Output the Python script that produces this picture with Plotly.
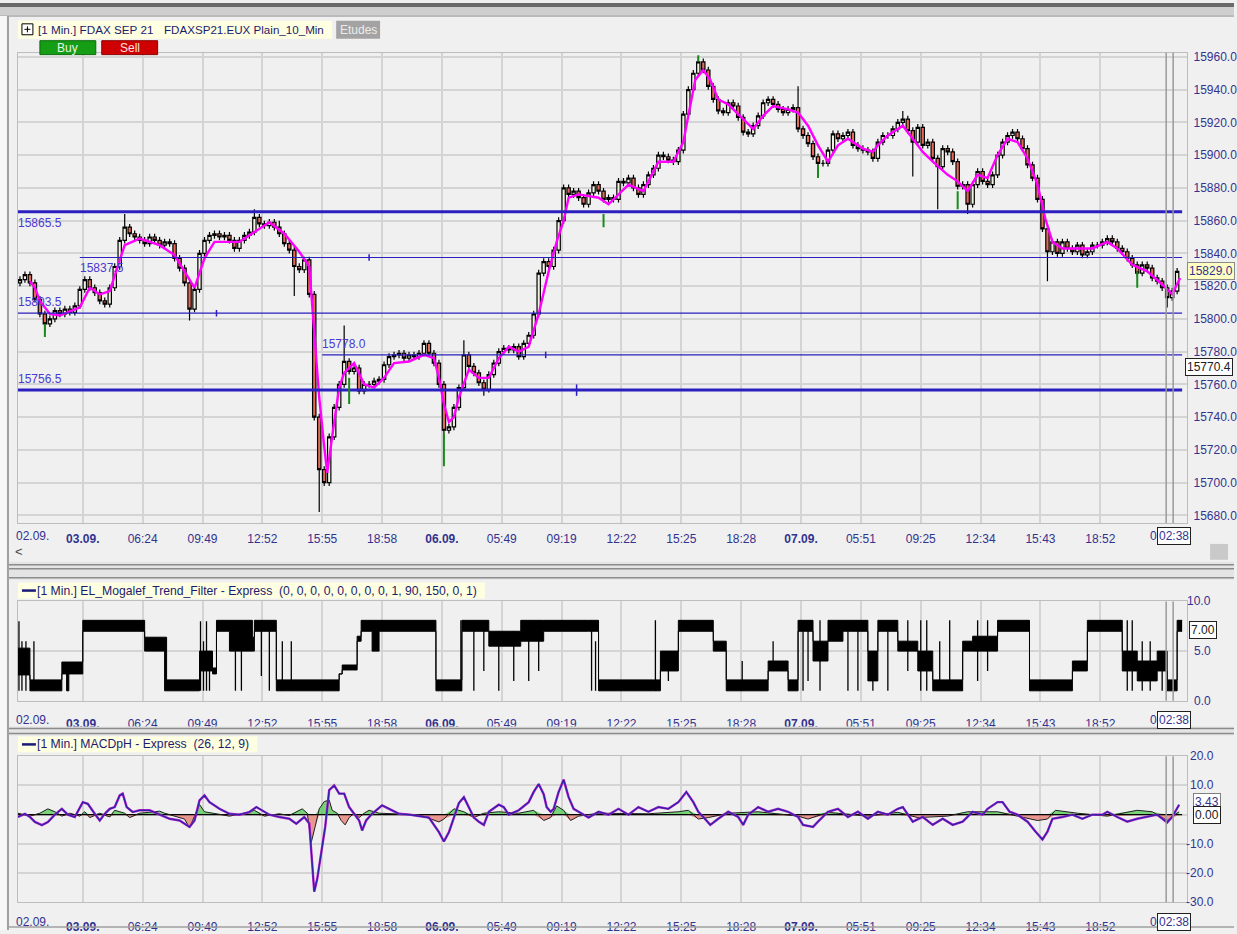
import plotly.graph_objects as go

W, H = 1237, 934
def px(x): return x / W
def py(y): return 1 - y / H

FONT = "Liberation Sans, Arial, sans-serif"
NAVY = "#33338f"

# ---------------- data ----------------
close = [
    15824, 15827, 15822, 15812, 15803, 15797, 15800, 15805, 15803, 15806,
    15804, 15808, 15818, 15824, 15819, 15816, 15811, 15809, 15819, 15832,
    15848, 15856, 15852, 15850, 15848, 15846, 15850, 15848, 15845, 15847,
    15846, 15837, 15831, 15822, 15806, 15818, 15840, 15848, 15851, 15852,
    15850, 15851, 15848, 15843, 15848, 15851, 15853, 15862, 15858, 15857,
    15859, 15856, 15852, 15846, 15842, 15832, 15830, 15836, 15815, 15740,
    15708, 15700, 15728, 15746, 15760, 15774, 15768, 15770, 15756, 15760,
    15760, 15762, 15763, 15772, 15777, 15778, 15779, 15776, 15778, 15777,
    15779, 15785, 15779, 15773, 15760, 15732, 15734, 15746, 15758, 15778,
    15771, 15767, 15761, 15757, 15766, 15773, 15780, 15782, 15781, 15783,
    15777, 15785, 15790, 15803, 15828, 15835, 15832, 15842, 15860, 15880,
    15876, 15878, 15874, 15870, 15877, 15882, 15878, 15873, 15874, 15873,
    15884, 15883, 15886, 15880, 15876, 15882, 15888, 15892, 15900, 15899,
    15897, 15896, 15903, 15925, 15940, 15950, 15957, 15952, 15942, 15934,
    15927, 15926, 15932, 15930, 15923, 15914, 15913, 15918, 15924, 15932,
    15934, 15931, 15928, 15926, 15928, 15929, 15916, 15912, 15907, 15899,
    15895, 15895, 15903, 15913, 15910, 15912, 15914, 15906, 15904, 15903,
    15902, 15898, 15908, 15912, 15912, 15916, 15920, 15922, 15915, 15908,
    15917, 15906, 15908, 15898, 15893, 15904, 15902, 15896, 15881, 15882,
    15870, 15882, 15890, 15884, 15882, 15888, 15900, 15908, 15912, 15914,
    15910, 15904, 15894, 15886, 15873, 15855, 15841, 15847, 15840, 15847,
    15843, 15841, 15845, 15839, 15841, 15845, 15845, 15847, 15849, 15847,
    15843, 15841, 15837, 15833, 15828, 15833, 15831, 15825, 15823, 15819,
    15813, 15817, 15829,
]
first_open = 15822
wick = 2
high_override = {21: 15864, 47: 15867, 52: 15860, 58: 15838, 65: 15796, 81: 15787,
                 89: 15787, 136: 15960, 156: 15942, 177: 15927}
low_override = {5: 15792, 34: 15799, 55: 15814, 60: 15682, 85: 15726, 93: 15753,
                179: 15887, 184: 15867, 190: 15864, 206: 15823, 230: 15807}
green_wick_bar = [5, 66, 85, 117, 160, 188, 224, 136]
green_wick_top = [15797, 15764, 15730, 15864, 15894, 15878, 15829, 15961]
green_wick_bot = [15789, 15748, 15710, 15856, 15886, 15867, 15819, 15957]

ma_bar = [2, 3, 4, 6, 8, 12, 14, 16, 18, 20, 21, 24, 28, 31, 33, 35, 37, 39, 44, 47,
          50, 53, 56, 58, 59, 60, 61, 61.6, 63, 64, 65, 67, 69, 71, 73, 75, 78, 81, 83, 84,
          85, 86, 87, 88, 90, 92, 94, 96, 98, 100, 102, 104, 106, 107.6, 109, 110, 112, 116, 118, 120,
          122, 125, 128, 131, 133, 134, 135.4, 137, 138.4, 140, 142, 145, 147, 149, 151, 154, 156, 158, 160, 162,
          164, 166, 169, 171, 172, 174, 177, 179, 181, 183, 186, 188, 190, 192, 194, 196, 198, 200, 202, 204,
          205.6, 207, 209, 212, 215, 218, 220, 223, 226, 229, 231, 232.6]
ma_val = [15823, 15819, 15811, 15803, 15802, 15807, 15819, 15815, 15817, 15835, 15845, 15849, 15845, 15839, 15829, 15819, 15837, 15847, 15847, 15853,
          15859, 15852, 15841, 15832, 15793, 15752, 15722, 15706, 15737, 15758, 15767, 15773, 15760, 15758, 15764, 15773, 15774, 15778, 15776, 15764,
          15748, 15737, 15740, 15752, 15769, 15764, 15764, 15776, 15783, 15780, 15783, 15803, 15829, 15847, 15860, 15874, 15876, 15874, 15870, 15876,
          15882, 15878, 15896, 15896, 15908, 15924, 15946, 15952, 15946, 15934, 15931, 15922, 15916, 15924, 15930, 15928, 15926, 15918, 15906, 15896,
          15906, 15910, 15904, 15902, 15906, 15912, 15918, 15910, 15902, 15896, 15888, 15884, 15878, 15888, 15886, 15900, 15910, 15908, 15898, 15882,
          15861, 15847, 15843, 15843, 15843, 15847, 15843, 15833, 15829, 15821, 15815, 15825]

level_value = [15865.5, 15837.5, 15803.5, 15778.0, 15756.5]
level_start = [-0.4, 12, -0.4, 60.6, -0.4]
level_thick = [True, False, False, False, True]
level_label_below = [True, True, False, False, False]
level_mark = [None, 70, 39.4, 105.4, 111.6]

tf_bar = [-0.6, 2.0, 8.4, 9.4, 9.8, 12.6, 25, 29, 29.4, 36, 38.6, 39.4, 42, 46.6, 47, 51.4,
          64, 64.6, 67.6, 68.4, 70.6, 72, 83.4, 88.6, 94, 100.4, 105, 114, 116, 127, 128.4, 132,
          139, 141.6, 150, 154, 156, 159, 162, 165, 170, 172, 176, 180, 183, 189, 191, 196,
          202.4, 211, 214, 221, 224, 228, 230, 232, 233]
tf_lo = [2.6, 1, 2.7, 1, 2.7, 7, 5, 1, 1, 3, 2.7, 7, 5, 5, 7, 1,
         2.7, 3.1, 6.0, 7, 5, 7, 1, 7, 5.5, 6, 7, 7, 1, 1, 3, 7,
         5, 1, 3, 1, 7, 4, 6, 7, 2, 7, 5, 3, 1, 5, 5, 7,
         1, 3, 7, 3, 2, 3, 1, 7, 7]
tf_hi = [5.3, 2.1, 3.9, 3.9, 3.9, 8.1, 6.4, 6.4, 2.1, 5, 3.3, 8.1, 8.1, 6.4, 8.1, 2.1,
         2.7, 3.6, 6.5, 8.1, 8.1, 8.1, 2.1, 8.1, 7, 8.1, 8.1, 8.1, 2.1, 2.1, 5, 8.1,
         6, 2.1, 4, 2.1, 8.1, 6, 8.1, 8.1, 5, 8.1, 6, 5, 2.1, 6, 6.5, 8.1,
         2.1, 4, 8.1, 5, 4, 5, 2.1, 8.1, 8.1]
tf_spike_bar = [-0.2, 0.4, 1.2, 2.8, 9.4, 36.2, 36.8, 37.4, 38.0, 43.2, 44.4, 48.4, 50.0, 52.6, 54.4,
                88.4, 91, 93, 96, 99, 102, 104, 114.6, 115.4, 127.4, 130, 144.8, 151, 157, 158, 160.4, 166, 168,
                171, 174, 178, 180.6, 181.8, 184.4, 186.4, 192, 194, 222, 223, 225, 226.6, 229]
tf_spike_lo = [1, 1, 1, 1, 1, 1, 1, 1, 1, 1, 1, 2.5, 1, 1, 1,
               1, 1, 3, 1, 2, 2, 3, 1, 1, 1, 2, 1, 3, 1, 2, 1, 1, 1,
               1, 1, 3, 1, 1, 2, 2, 2, 3, 1, 1, 1, 1, 1]
tf_spike_hi = [8, 6, 6, 6, 3.9, 8, 6, 8, 5, 6.4, 6.4, 8.1, 8.1, 6, 6,
               8.1, 8.1, 8.1, 7, 7, 8.1, 8.1, 8.1, 6, 8.1, 5, 4, 6, 8.1, 8.1, 8.1, 8.1, 8.1,
               5, 8.1, 8.1, 8.1, 8.1, 6, 8.1, 8.1, 8.1, 8.1, 8.1, 6, 6, 5]

macd_bar = [-0.4, 1, 2, 3, 4.4, 5.6, 7, 8.4, 9.6, 11, 12.6, 13.6, 15, 16, 17, 18, 19, 20, 20.6, 21.4,
            22.6, 24, 26, 28, 30, 32, 34, 35, 36, 37, 38, 40, 42, 44, 46, 47.4, 48.6, 50, 52, 54,
            55.4, 57, 58, 58.6, 59, 59.6, 60.4, 61.2, 62, 63, 64, 65, 66, 67, 68, 68.6, 69.4, 70.6, 72.6, 74,
            76, 78, 80, 82, 84, 85, 86, 87, 88, 89, 90, 91, 92, 93, 94, 96, 97, 98, 100, 102,
            103, 104, 105, 105.6, 106.4, 107, 108, 109, 110, 111, 112, 114, 116, 118, 120, 122, 124, 126, 128, 130,
            132, 133.6, 135, 136, 137, 138.4, 140, 142, 144, 145, 146, 148, 150, 152, 154, 156, 157, 159, 160, 162,
            164, 166, 168, 170, 172, 174, 176, 177, 179, 181, 183, 185, 187, 189, 191, 193, 194, 196, 197, 198.4,
            200, 202, 203.6, 205, 206, 207, 209, 211, 213, 215, 217, 218, 220, 222, 224, 226, 228, 230, 231, 232.4]
macd_val = [-0.8, 0.3, -0.8, -2.5, -3.6, -2.5, 0, 2.0, 0, -0.8, 4.3, 3.7, 0.3, -2.0, 0.3, 2.0, 2.6, 6.6, 7.2, 2.6,
            0.9, 1.5, 1.5, 0, -1.4, -2.0, -4.2, -2.0, 4.9, 6.6, 4.3, 2.0, 0.3, 0, 0.9, 2.6, 1.5, 0, -0.8, -1.4,
            -3.1, -0.8, -3.0, -17.9, -26.4, -22.0, -13.3, -4.2, 8.4, 10.0, 7.2, 7.2, 2.6, 0.3, -2.0, -5.4, -2.0, 0.3, 3.2, 2.0,
            0.3, 0, -0.5, -1.0, -6.0, -9.2, -6.0, -1.0, 4.0, 6.0, 2.6, -1.0, -2.4, -3.5, 1.0, 3.4, 2.6, 0, 1.5, 4.3,
            7.8, 10.5, 7.0, 2.6, 1.0, 2.0, 7.8, 12.0, 6.0, 2.0, 1.0, -1.0, 1.0, 0, 2.0, 0, 2.6, 1.0, 2.6, 2.0,
            4.3, 7.8, 4.3, 1.0, -0.8, -3.5, -1.4, 1.0, -0.8, -3.5, 0, 2.6, 1.0, 2.0, 1.0, -0.8, -3.5, -4.2, -2.4, 1.0,
            2.0, -0.8, 1.0, -1.4, 1.0, 0, 2.0, 2.6, -2.4, -0.8, -3.5, -1.4, -3.5, -2.4, 1.0, 0, 2.0, 4.3, 4.3, 1.0,
            0, -2.4, -5.8, -8.5, -5.8, -1.4, -0.8, 0, -1.4, 0, 0, 1.0, -0.8, -2.4, -1.4, -0.8, 0, -2.7, -0.8, 3.4]
hist_bar = [-0.4, 2, 4, 5.6, 7, 8.4, 10, 12, 13, 14, 16, 18, 19, 21, 22, 24, 26, 28, 29, 31,
            33, 34, 35, 36, 37, 39, 42, 45, 47, 49, 52, 54, 55.4, 56.6, 57.6, 58.4, 59.2, 60, 61, 62,
            62.6, 63.6, 64.4, 65.2, 66, 67, 68, 69, 70, 72, 75, 80, 84, 85, 87, 89, 91, 93, 96, 100,
            103, 105, 106.4, 107.6, 109, 110.4, 112, 116, 126, 132, 134, 136, 138, 142, 148, 156, 158, 162, 170, 176,
            180, 186, 190, 196, 200, 204, 206, 207.6, 212, 218, 224, 227, 230, 232.4]
hist_val = [0.5, -0.5, 0.5, 2.0, 1.0, -0.5, 0.5, -0.5, 1.0, -1.0, 0.5, -0.8, 1.5, 0.5, -1.0, 0.5, 0.8, 1.2, 0.5, -0.5,
            -1.5, -4.5, -0.5, 3.5, 1.0, 0.5, -0.5, 0.5, 1.5, -0.5, 0.3, -0.3, 1.0, 2.0, 0.5, -9.5, -4.0, 2.0, 4.5, 5.0,
            1.5, 0.5, -2.0, -3.5, -1.0, 0.5, -1.0, 0.5, 1.5, 0.5, 0.3, 0, -2.5, -1.5, 2.0, 1.0, -1.0, 0.5, 1.0, 0.5,
            1.5, -2.0, -1.0, 3.0, 1.5, -2.0, -0.5, 0.5, 0.3, 1.0, 1.5, -1.5, -1.0, 0.5, 1.0, -0.5, -1.5, 0.8, -0.5, 0.8,
            -1.0, -0.5, 1.0, 1.0, -0.5, -2.0, -1.5, 1.5, 0.5, -0.5, 1.5, 1.0, -2.0, 1.0]

time_tick_bar = [12.6, 24.6, 36.6, 48.6, 60.6, 72.6, 84.6, 96.6, 108.6, 120.6, 132.6, 144.6, 156.6, 168.6, 180.6, 192.6, 204.6, 216.6]
time_tick_text = ["<b>03.09.</b>", "06:24", "09:49", "12:52", "15:55", "18:58", "<b>06.09.</b>", "05:49", "09:19",
                  "12:22", "15:25", "18:28", "<b>07.09.</b>", "05:51", "09:25", "12:34", "15:43", "18:52"]
price_ticks = [15680, 15700, 15720, 15740, 15760, 15780, 15800, 15820, 15840, 15860, 15880, 15900, 15920, 15940, 15960]
tf_ticks = [0, 5, 10]
macd_ticks = [-30, -20, -10, 0, 10, 20]
session_bars = [229.8, 231.2]
last_price = 15829.0
marker_price = 15770.4

# ---------------- figure ----------------
fig = go.Figure()

opens = [first_open] + close[:-1]
highs, lows = [], []
for i, (o, c) in enumerate(zip(opens, close)):
    highs.append(high_override.get(i, max(o, c) + wick))
    lows.append(low_override.get(i, min(o, c) - wick))
bars = list(range(len(close)))

fig.add_trace(go.Scatter(x=ma_bar, y=ma_val, mode="lines", line=dict(color="#ff00ff", width=2.4),
                         xaxis="x", yaxis="y", hoverinfo="skip", showlegend=False))

for v, s, thick, below, mark in zip(level_value, level_start, level_thick, level_label_below, level_mark):
    fig.add_trace(go.Scatter(x=[s, 233], y=[v, v], mode="lines",
                             line=dict(color="#2b1fc0", width=3 if thick else 1.2),
                             xaxis="x", yaxis="y", hoverinfo="skip", showlegend=False))
    if mark is not None:
        fig.add_trace(go.Scatter(x=[mark, mark], y=[v - (3.5 if thick else 2), v + (3.5 if thick else 2)],
                                 mode="lines", line=dict(color="#2b1fc0", width=1.5),
                                 xaxis="x", yaxis="y", hoverinfo="skip", showlegend=False))
    fig.add_annotation(x=s, y=v, xref="x", yref="y", text=f"{v:.1f}", showarrow=False,
                       xanchor="left", yanchor="top" if below else "bottom", yshift=-2 if below else 2,
                       xshift=-2, font=dict(family=FONT, size=12, color="#4a3ad0"))

fig.add_trace(go.Candlestick(
    x=bars, open=opens, high=highs, low=lows, close=close, xaxis="x", yaxis="y",
    increasing=dict(fillcolor="#f3f1e2", line=dict(color="#000000", width=1.2)),
    decreasing=dict(fillcolor="#e36b58", line=dict(color="#000000", width=1.2)),
    whiskerwidth=0, showlegend=False, hoverinfo="skip"))

gx, gy = [], []
for b, t, lo in zip(green_wick_bar, green_wick_top, green_wick_bot):
    gx += [b, b, None]
    gy += [t, lo, None]
fig.add_trace(go.Scatter(x=gx, y=gy, mode="lines", line=dict(color="#1a8a1a", width=2),
                         xaxis="x", yaxis="y", hoverinfo="skip", showlegend=False))

fig.add_trace(go.Scatter(x=tf_bar, y=tf_lo, mode="lines", line=dict(color="#000000", width=1, shape="hv"),
                         xaxis="x2", yaxis="y2", hoverinfo="skip", showlegend=False))
fig.add_trace(go.Scatter(x=tf_bar, y=tf_hi, mode="lines", line=dict(color="#000000", width=1, shape="hv"),
                         fill="tonexty", fillcolor="#000000",
                         xaxis="x2", yaxis="y2", hoverinfo="skip", showlegend=False))
sx, sy = [], []
for b, lo, hi in zip(tf_spike_bar, tf_spike_lo, tf_spike_hi):
    sx += [b, b, None]
    sy += [lo, hi, None]
fig.add_trace(go.Scatter(x=sx, y=sy, mode="lines", line=dict(color="#000000", width=1.3),
                         xaxis="x2", yaxis="y2", hoverinfo="skip", showlegend=False))

hist_pos = [max(v, 0) for v in hist_val]
hist_neg = [min(v, 0) for v in hist_val]
fig.add_trace(go.Scatter(x=hist_bar, y=hist_pos, mode="lines", line=dict(width=0),
                         fill="tozeroy", fillcolor="rgba(80,200,80,0.75)",
                         xaxis="x3", yaxis="y3", hoverinfo="skip", showlegend=False))
fig.add_trace(go.Scatter(x=hist_bar, y=hist_neg, mode="lines", line=dict(width=0),
                         fill="tozeroy", fillcolor="rgba(230,120,110,0.75)",
                         xaxis="x3", yaxis="y3", hoverinfo="skip", showlegend=False))
fig.add_trace(go.Scatter(x=[-0.4, 233], y=[0, 0], mode="lines", line=dict(color="#000000", width=1.2),
                         xaxis="x3", yaxis="y3", hoverinfo="skip", showlegend=False))
fig.add_trace(go.Scatter(x=hist_bar, y=hist_val, mode="lines", line=dict(color="#202020", width=1),
                         xaxis="x3", yaxis="y3", hoverinfo="skip", showlegend=False))
fig.add_trace(go.Scatter(x=macd_bar, y=macd_val, mode="lines", line=dict(color="#b020c8", width=2.4),
                         xaxis="x3", yaxis="y3", hoverinfo="skip", showlegend=False))
fig.add_trace(go.Scatter(x=macd_bar, y=macd_val, mode="lines", line=dict(color="#2a22a8", width=1.2),
                         xaxis="x3", yaxis="y3", hoverinfo="skip", showlegend=False))

XR = [-0.4, 234]
GRID = "#d4d4d4"
def xax(anchor, standoff):
    return dict(domain=[px(18), px(1190)], range=XR, anchor=anchor, tickmode="array",
                tickvals=time_tick_bar, ticktext=time_tick_text, showgrid=True, gridcolor=GRID, gridwidth=1.5,
                zeroline=False, showline=True, linecolor="#bdbdbd", mirror=True, ticks="",
                ticklabelstandoff=standoff, tickfont=dict(family=FONT, size=12, color=NAVY),
                rangeslider=dict(visible=False), fixedrange=True)

fig.update_layout(
    width=W, height=H, margin=dict(l=0, r=0, t=0, b=0),
    paper_bgcolor="#f0f0f0", plot_bgcolor="#f0f0f0", showlegend=False, boxgap=0.05,
    xaxis=xax("y", 5),
    xaxis2=xax("y2", 12),
    xaxis3=xax("y3", 13),
    yaxis=dict(domain=[py(524), py(50)], range=[15675.3, 15962.6], side="right", anchor="x",
               tickmode="array", tickvals=price_ticks, ticktext=[f"{v:.1f}" for v in price_ticks],
               showgrid=True, gridcolor=GRID, gridwidth=1.5, zeroline=False, showline=True,
               linecolor="#bdbdbd", mirror=True, ticks="", ticklabelstandoff=3,
               tickfont=dict(family=FONT, size=12, color=NAVY), fixedrange=True),
    yaxis2=dict(domain=[py(703), py(603)], range=[0, 10], side="right", anchor="x2",
                tickmode="array", tickvals=tf_ticks, showticklabels=False,
                showgrid=True, gridcolor=GRID, gridwidth=1.5, zeroline=False, showline=True,
                linecolor="#bdbdbd", mirror=True, ticks="", fixedrange=True),
    yaxis3=dict(domain=[py(906), py(759)], range=[-30, 20], side="right", anchor="x3",
                tickmode="array", tickvals=macd_ticks, showticklabels=False,
                showgrid=True, gridcolor=GRID, gridwidth=1.5, zeroline=False, showline=True,
                linecolor="#bdbdbd", mirror=True, ticks="", fixedrange=True),
)

for v in tf_ticks:
    fig.add_annotation(x=px(1216), y=v, xref="paper", yref="y2", text=f"{v:.1f}", showarrow=False,
                       xanchor="right", font=dict(family=FONT, size=12, color=NAVY))
for v in macd_ticks:
    fig.add_annotation(x=px(1219), y=v, xref="paper", yref="y3", text=f"{v:.1f}", showarrow=False,
                       xanchor="right", font=dict(family=FONT, size=12, color=NAVY))

shapes = []
def rect(x0, y0, x1, y1, fill, line=None, lw=0):
    shapes.append(dict(type="rect", xref="paper", yref="paper", x0=px(x0), x1=px(x1), y0=py(y1), y1=py(y0),
                       fillcolor=fill, line=dict(color=line or fill, width=lw), layer="above"))
def hline(x0, x1, y, color, w):
    shapes.append(dict(type="line", xref="paper", yref="paper", x0=px(x0), x1=px(x1), y0=py(y), y1=py(y),
                       line=dict(color=color, width=w), layer="above"))
def vline(x, y0, y1, color, w):
    shapes.append(dict(type="line", xref="paper", yref="paper", x0=px(x), x1=px(x), y0=py(y0), y1=py(y1),
                       line=dict(color=color, width=w), layer="above"))

rect(0, 0, W, 4, "#6a6a6a")
rect(0, 4, W, 12, "#cfcfcf")
hline(0, W, 13, "#a8a8a8", 1.5)
rect(0, 13, 7, H, "#f7f7f7")
vline(8, 13, H, "#a0a0a0", 2)
rect(1213, 545, 1231, 561, "#c9c9c9")
rect(9, 563, W, 581, "#e4e4e4")
hline(9, W, 566, "#8c8c8c", 1.5)
hline(9, W, 570, "#8c8c8c", 1.5)
hline(9, W, 579, "#8c8c8c", 1.5)
rect(9, 729, W, 738, "#e4e4e4")
hline(9, W, 731, "#8c8c8c", 1.5)
hline(9, W, 736, "#8c8c8c", 1.5)
hline(9, W, 931, "#a0a0a0", 1.5)

for yr in ["y", "y2", "y3"]:
    for b in session_bars:
        shapes.append(dict(type="line", xref="x", yref=f"{yr} domain", x0=b, x1=b, y0=0, y1=1,
                           line=dict(color="#9a9a9a", width=1.5), layer="above"))

rect(18, 18, 333, 36, "#ffffe1")
rect(22, 21, 33, 32, "#ffffff", "#000000", 1)
hline(24.5, 30.5, 26.5, "#000000", 1)
vline(27.5, 23.5, 29.5, "#000000", 1)
rect(337, 18, 381, 36, "#a3a3a3")
rect(40, 38, 96, 52, "#159d15", "#0a6a0a", 1)
rect(102, 38, 158, 52, "#cf0000", "#8a0000", 1)
rect(18, 584, 486, 600, "#ffffe1")
hline(22, 36, 592, "#1a1a78", 2.5)
rect(18, 739, 258, 755, "#ffffe1")
hline(22, 36, 747, "#1a1a78", 2.5)
fig.update_layout(shapes=shapes)

def text(x, y, s, color="#1c1c6e", size=12, anchor="left", bg=None, border=None):
    fig.add_annotation(x=px(x), y=py(y), xref="paper", yref="paper", text=s,
                       showarrow=False, xanchor=anchor, yanchor="middle",
                       font=dict(family=FONT, size=size, color=color),
                       bgcolor=bg, bordercolor=border, borderwidth=1 if border else 0, borderpad=1)

text(37, 27, "[1 Min.] FDAX SEP 21", size=11.7)
text(163, 27, "FDAXSP21.EUX Plain_10_Min", size=11.6)
text(359, 27, "Etudes", color="#ececec", anchor="center")
text(68, 45, "Buy", color="#e6f5e6", anchor="center")
text(130, 45, "Sell", color="#f8e0e0", anchor="center")
text(36, 592, "[1 Min.] EL_Mogalef_Trend_Filter - Express&nbsp;&nbsp;(0, 0, 0, 0, 0, 0, 0, 0, 1, 90, 150, 0, 1)", size=12.2)
text(36, 747, "[1 Min.] MACDpH - Express&nbsp;&nbsp;(26, 12, 9)", size=12.2)
text(14, 553, "&lt;", color="#444444", size=13)

for ylab in [537, 722, 926]:
    text(15, ylab, "02.09.", color=NAVY)
    text(1152, ylab, "0", color=NAVY)
    text(1177, ylab, "02:38", color=NAVY, anchor="center", bg="#ffffff", border="#202020")

fig.add_annotation(x=px(1190), y=last_price, xref="paper", yref="y", text=f"{last_price:.1f}", showarrow=False,
                   xanchor="left", font=dict(family=FONT, size=12, color=NAVY),
                   bgcolor="#ffffc4", bordercolor="#8a8a8a", borderwidth=1, borderpad=1)
fig.add_annotation(x=px(1188), y=marker_price, xref="paper", yref="y", text=f"{marker_price:.1f}", showarrow=False,
                   xanchor="left", font=dict(family=FONT, size=12, color="#202020"),
                   bgcolor="#ffffff", bordercolor="#202020", borderwidth=1, borderpad=1)
fig.add_annotation(x=px(1192), y=7.1, xref="paper", yref="y2", text="7.00", showarrow=False,
                   xanchor="left", font=dict(family=FONT, size=12, color="#202020"),
                   bgcolor="#ffffff", bordercolor="#202020", borderwidth=1, borderpad=1)
fig.add_annotation(x=px(1196), y=4.3, xref="paper", yref="y3", text="3.43", showarrow=False,
                   xanchor="left", font=dict(family=FONT, size=12, color=NAVY),
                   bgcolor="#ffffff", bordercolor="#808080", borderwidth=1, borderpad=1)
fig.add_annotation(x=px(1196), y=0, xref="paper", yref="y3", text="0.00", showarrow=False,
                   xanchor="left", font=dict(family=FONT, size=12, color="#202020"),
                   bgcolor="#ffffff", bordercolor="#202020", borderwidth=1, borderpad=1)

fig.write_html("out.html", config={"displayModeBar": False},
               post_script="document.body.style.margin='0px';document.body.style.overflow='hidden';")
